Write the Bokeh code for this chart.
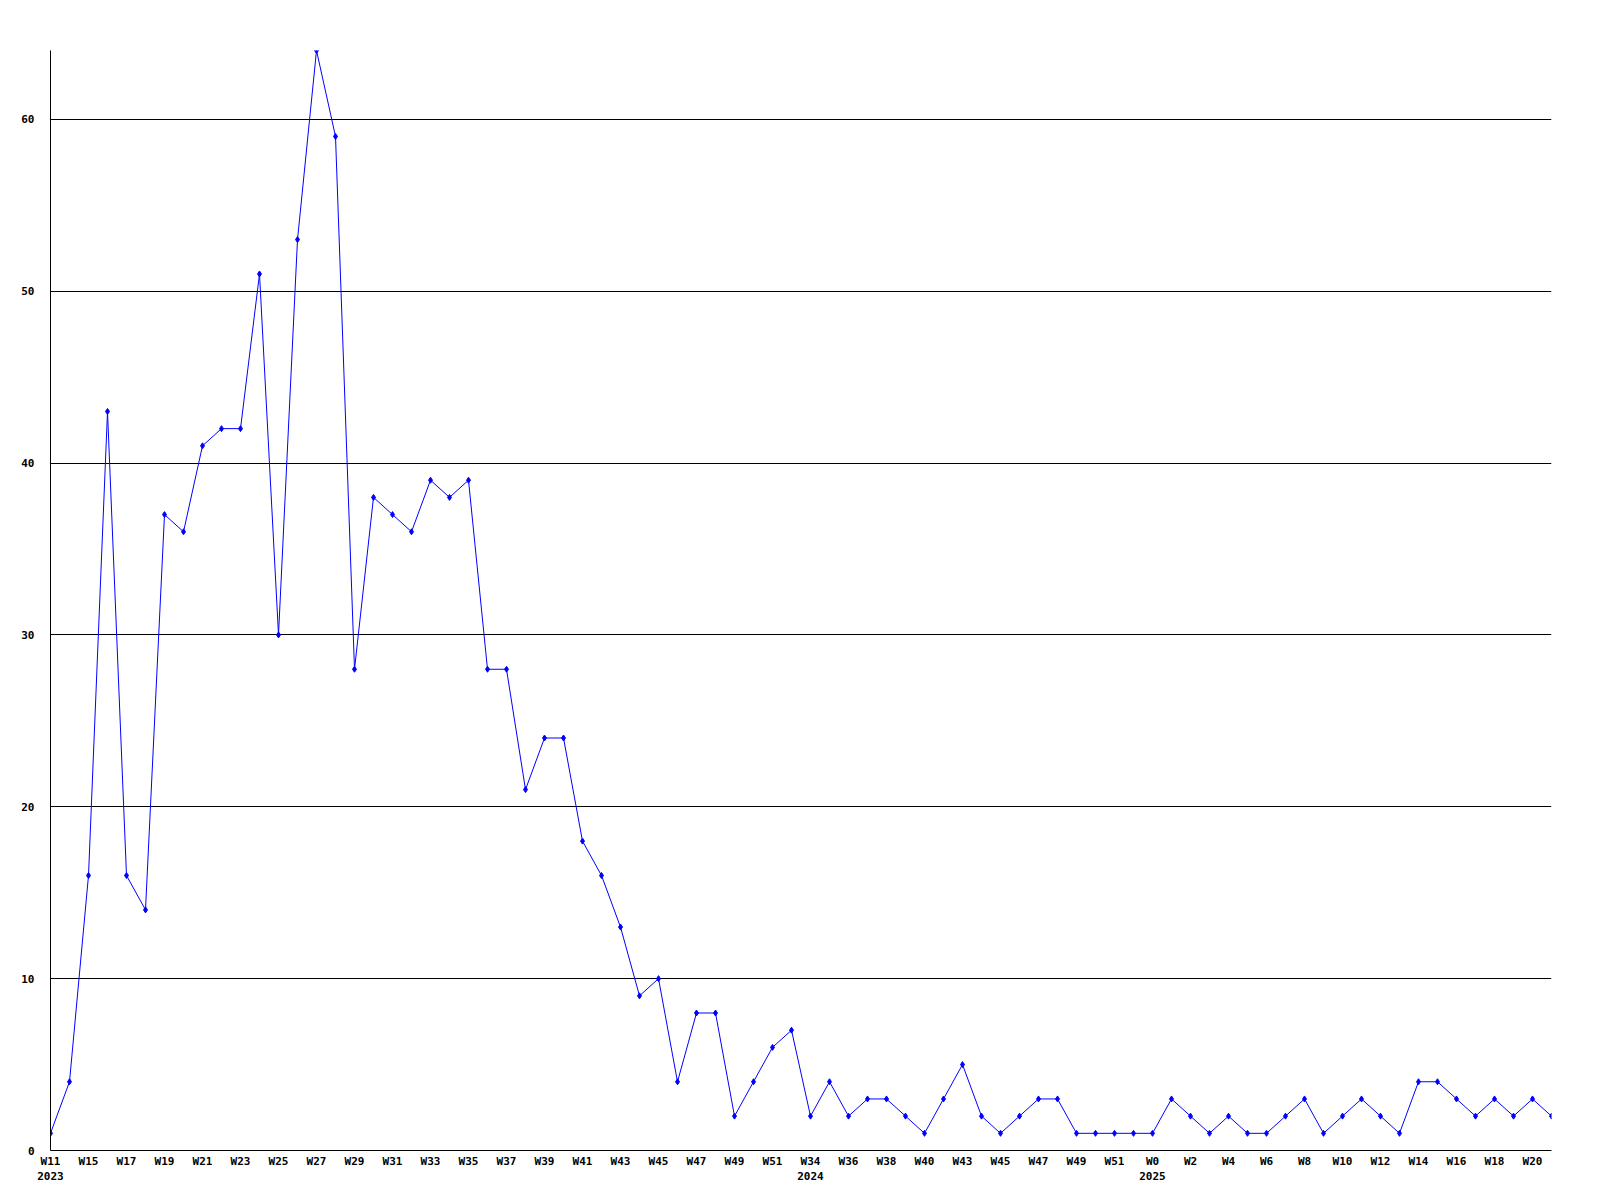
from bokeh.plotting import figure
from bokeh.models import FixedTicker, Range1d
from bokeh.embed import file_html
from bokeh.resources import INLINE

values = [1, 4, 16, 43, 16, 14, 37, 36, 41, 42,
          42, 51, 30, 53, 64, 59, 28, 38, 37, 36,
          39, 38, 39, 28, 28, 21, 24, 24, 18, 16,
          13, 9, 10, 4, 8, 8, 2, 4, 6, 7,
          2, 4, 2, 3, 3, 2, 1, 3, 5, 2,
          1, 2, 3, 3, 1, 1, 1, 1, 1, 3,
          2, 1, 2, 1, 1, 2, 3, 1, 2, 3,
          2, 1, 4, 4, 3, 2, 3, 2, 3, 2]

tick_labels = ["W11", "W15", "W17", "W19", "W21", "W23", "W25", "W27", "W29", "W31",
               "W33", "W35", "W37", "W39", "W41", "W43", "W45", "W47", "W49", "W51",
               "W34", "W36", "W38", "W40", "W43", "W45", "W47", "W49", "W51",
               "W0", "W2", "W4", "W6", "W8", "W10", "W12", "W14", "W16", "W18", "W20"]
# index of the tick label under which a year is written
year_labels = {0: "2023", 20: "2024", 29: "2025"}
y_ticks = [0, 10, 20, 30, 40, 50, 60]

xs = list(range(len(values)))
tick_pos = xs[0::2]

p = figure(width=1584, height=1188, output_backend="svg", toolbar_location=None,
           x_range=Range1d(0, len(values) - 1), y_range=Range1d(0, 64),
           min_border_left=50, min_border_right=33, min_border_top=50, min_border_bottom=38)
p.outline_line_color = None
p.background_fill_color = "white"
p.border_fill_color = "white"

overrides = {}
for i, (pos, lab) in enumerate(zip(tick_pos, tick_labels)):
    yl = year_labels.get(i)
    overrides[pos] = lab + ("\n" + yl if yl else "")

font = "DejaVu Sans Mono"
p.xaxis.ticker = FixedTicker(ticks=tick_pos)
p.xaxis.major_label_overrides = overrides
p.yaxis.ticker = FixedTicker(ticks=y_ticks)
for ax in (p.xaxis, p.yaxis):
    ax.major_tick_out = 0
    ax.major_tick_in = 0
    ax.minor_tick_out = 0
    ax.minor_tick_in = 0
    ax.axis_line_color = "black"
    ax.axis_line_width = 1
    ax.major_label_text_font = font
    ax.major_label_text_font_style = "bold"
    ax.major_label_text_font_size = "11px"
    ax.major_label_text_color = "black"
p.xaxis.major_label_standoff = 4
p.yaxis.major_label_standoff = 16

p.xgrid.grid_line_color = None
p.ygrid.ticker = FixedTicker(ticks=y_ticks)
p.ygrid.grid_line_color = "black"
p.ygrid.grid_line_width = 1

p.line(xs, values, line_color="#0000ff", line_width=1)
p.scatter(xs, values, marker="diamond", size=6, color="#0000ff")

open("out.html", "w").write(file_html(p, INLINE))
